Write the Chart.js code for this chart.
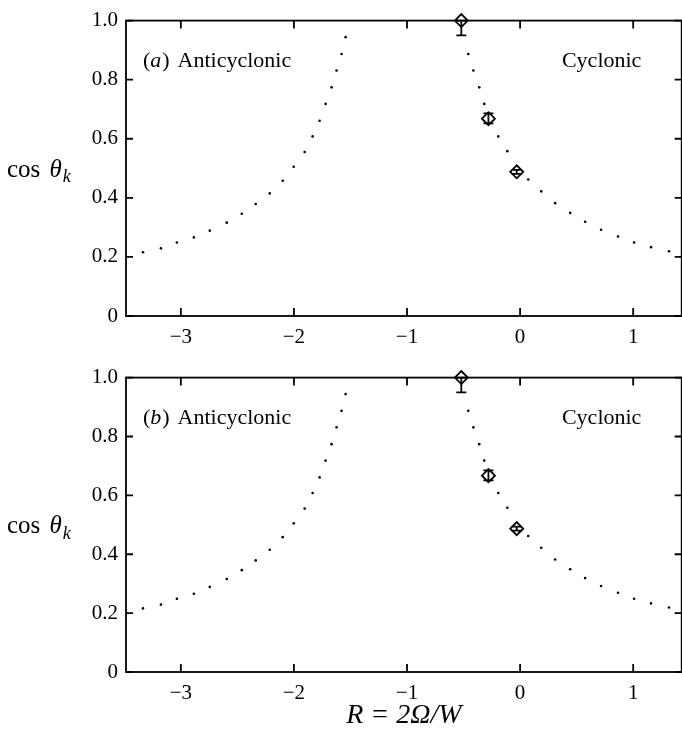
<!DOCTYPE html>
<html>
<head>
<meta charset="utf-8">
<script src="https://cdn.jsdelivr.net/npm/chart.js@4"></script>
<style>
  html,body{margin:0;padding:0;background:#fff;}
  #wrap{position:relative;width:682px;height:738px;overflow:hidden;}
  canvas{position:absolute;left:0;}
</style>
</head>
<body>
<div id="wrap">
  <canvas id="chartA" width="690" height="357" style="top:0"></canvas>
  <canvas id="chartB" width="690" height="381" style="top:357px"></canvas>
</div>
<script>
// axis limits and ticks (right frame edge sits just past the picture edge)
const xMin=-3.485, xMax=1.429;
const xTicks=[-3,-2,-1,0,1];
const yTicks=[0,0.2,0.4,0.6,0.8,1.0];

// dotted theory curve, read dot by dot off the figure
const curveLeftR=[-3.335,-3.176,-3.035,-2.885,-2.744,-2.594,-2.461,-2.338,-2.214,-2.099,-2.002,-1.905,-1.835,-1.773,-1.720,-1.667,-1.623,-1.579,-1.543];
const curveLeftC=[0.216,0.229,0.249,0.266,0.289,0.316,0.346,0.379,0.415,0.458,0.505,0.555,0.608,0.661,0.718,0.774,0.831,0.887,0.944];
const curveRightR=[-0.458,-0.413,-0.361,-0.317,-0.193,-0.113,0.072,0.187,0.310,0.443,0.575,0.716,0.866,1.008,1.158,1.317];
const curveRightC=[0.887,0.831,0.774,0.718,0.608,0.558,0.462,0.422,0.382,0.349,0.319,0.292,0.269,0.249,0.233,0.219];

// measured points with error bars
const measR=[-0.52,-0.28,-0.03];
const measA=[1.0,0.668,0.488];
const measALo=[0.95,0.652,0.481];
const measAHi=[1.0,0.686,0.495];
const measB=[1.0,0.667,0.487];
const measBLo=[0.95,0.651,0.480];
const measBHi=[1.0,0.685,0.494];

const FONT="'Liberation Serif','Times New Roman',serif";

function pts(xs,ys){ return xs.map((x,i)=>({x:x,y:ys[i]})); }

// error bars drawn through the open diamonds
const errorBars={
  id:'errorBars',
  afterDatasetsDraw(chart,args,opts){
    const {ctx,scales:{x,y}}=chart;
    ctx.save();
    ctx.strokeStyle='#000'; ctx.lineWidth=1.8;
    opts.r.forEach((r,i)=>{
      const px=x.getPixelForValue(r);
      const lo=y.getPixelForValue(opts.lo[i]), hi=y.getPixelForValue(opts.hi[i]);
      ctx.beginPath();
      ctx.moveTo(px,lo); ctx.lineTo(px,hi);
      ctx.moveTo(px-5,lo); ctx.lineTo(px+5,lo);
      ctx.moveTo(px-5,hi); ctx.lineTo(px+5,hi);
      ctx.stroke();
    });
    ctx.restore();
  }
};

// box frame, inward ticks, horizontal y title and panel labels
const frame={
  id:'frame',
  afterDraw(chart,args,opts){
    const {ctx,chartArea:a,scales:{x,y}}=chart;
    ctx.save();
    ctx.strokeStyle='#000'; ctx.lineWidth=1.8;
    ctx.strokeRect(a.left,a.top,a.right-a.left,a.bottom-a.top);
    ctx.beginPath();
    xTicks.forEach(v=>{
      const px=x.getPixelForValue(v);
      ctx.moveTo(px,a.bottom); ctx.lineTo(px,a.bottom-8);
      ctx.moveTo(px,a.top); ctx.lineTo(px,a.top+8);
    });
    yTicks.forEach(v=>{
      const py=y.getPixelForValue(v);
      ctx.moveTo(a.left,py); ctx.lineTo(a.left+7,py);
      ctx.moveTo(a.right,py); ctx.lineTo(a.right-7,py);
    });
    ctx.stroke();

    ctx.fillStyle='#000';
    ctx.textBaseline='middle';
    ctx.textAlign='left';
    // y title: cos θ_k
    const ty=(a.top+a.bottom)/2+2;
    let tx=7;
    ctx.font="25px "+FONT; ctx.fillText('cos ',tx,ty); tx+=ctx.measureText('cos ').width+3;
    ctx.font="italic 25px "+FONT; ctx.fillText('θ',tx,ty); tx+=ctx.measureText('θ').width+1;
    ctx.font="italic 18px "+FONT; ctx.fillText('k',tx,ty+7);

    // panel label
    const ly=y.getPixelForValue(0.862);
    let lx=x.getPixelForValue(-3.335);
    ctx.font="22px "+FONT; ctx.fillText('(',lx,ly); lx+=ctx.measureText('(').width;
    ctx.font="italic 22px "+FONT; ctx.fillText(opts.tag,lx,ly); lx+=ctx.measureText(opts.tag).width+1;
    ctx.font="22px "+FONT; ctx.fillText(')',lx,ly); lx+=ctx.measureText(')').width+8;
    ctx.fillText('Anticyclonic',lx,ly);
    ctx.fillText('Cyclonic',x.getPixelForValue(0.37),ly);
    ctx.restore();
  }
};

function makeChart(id,tag,vals,lo,hi,xAxisH,withTitle){
  return new Chart(document.getElementById(id),{
    type:'scatter',
    data:{datasets:[
      {data:pts(curveLeftR.concat(curveRightR),curveLeftC.concat(curveRightC)),
       pointRadius:1.3,pointBackgroundColor:'#000',pointBorderWidth:0,showLine:false},
      {data:pts(measR,vals),pointStyle:'rectRot',pointRadius:6.5,
       pointBorderColor:'#000',pointBorderWidth:1.8,pointBackgroundColor:'rgba(0,0,0,0)',clip:false}
    ]},
    options:{
      responsive:false,animation:false,
      layout:{padding:{top:15,right:7,left:0,bottom:0}},
      plugins:{legend:{display:false},tooltip:{enabled:false},
        errorBars:{r:measR,lo:lo,hi:hi},frame:{tag:tag}},
      scales:{
        x:{type:'linear',min:xMin,max:xMax,
          afterFit:s=>{s.height=xAxisH;},
          grid:{display:false,drawTicks:false},border:{display:false},
          ticks:{stepSize:1,includeBounds:false,padding:9,color:'#000',
            font:{family:FONT,size:21},
            callback:v=>Number.isInteger(v)?(v<0?'\u2212'+Math.abs(v):String(v)):''},
          title:{display:withTitle,text:'R = 2\u03A9/W',color:'#000',
            font:{family:FONT,size:28,style:'italic'},padding:{top:0,bottom:6}}
        },
        y:{min:0,max:1,
          afterFit:s=>{s.width=126;},
          grid:{display:false,drawTicks:false},border:{display:false},
          ticks:{stepSize:0.2,padding:8,color:'#000',font:{family:FONT,size:21},
            callback:v=>Math.abs(v)<1e-9?'0':v.toFixed(1)}
        }
      }
    },
    plugins:[errorBars,frame]
  });
}

makeChart('chartA','a',measA,measALo,measAHi,41,false);
makeChart('chartB','b',measB,measBLo,measBHi,66,true);
</script>
</body>
</html>
